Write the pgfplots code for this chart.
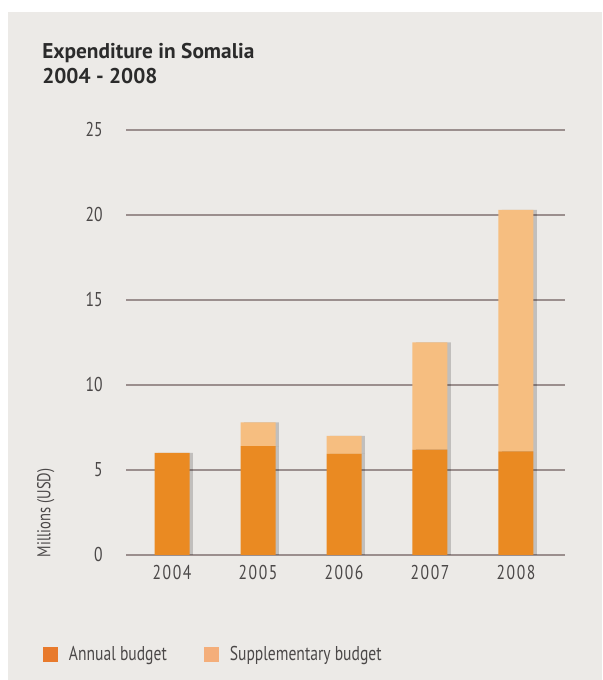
\documentclass[border=0pt]{standalone}
\usepackage{fontspec}
\setmainfont{PT Sans}
\newfontfamily\cond{PT Sans}[FakeStretch=0.78]
\newfontfamily\condsp{PT Sans}[FakeStretch=0.78, LetterSpace=8]
\usepackage{pgfplots}
\pgfplotsset{compat=1.18}
\usetikzlibrary{shadows}
\definecolor{bgcol}{HTML}{ECEAE7}
\definecolor{gridcol}{HTML}{9B8F8E}
\definecolor{annual}{HTML}{EA8A22}
\definecolor{supp}{HTML}{F6BE80}
\definecolor{annLeg}{HTML}{E87A2C}
\definecolor{suppLeg}{HTML}{F4AE7A}
\definecolor{tickcol}{HTML}{4B4848}
\definecolor{titlecol}{HTML}{2B2B2B}
\begin{document}
\begin{tikzpicture}
\fill[white] (-94.5pt,-93.75pt) rectangle (357pt,416.25pt);
\fill[bgcol] (-88.5pt,-93.75pt) rectangle (357pt,407.25pt);
\begin{axis}[
  at={(0pt,0pt)}, anchor=south west,
  scale only axis, width=329.25pt, height=318.75pt,
  xmin=-0.535, xmax=4.57, ymin=0, ymax=25,
  ytick={0,5,10,15,20,25},
  xtick={0,1,2,3,4}, xticklabels={2004,2005,2006,2007,2008},
  axis line style={draw=none}, major tick length=0pt,
  ymajorgrids, grid style={gridcol, line width=1pt},
  ybar stacked, bar width=26.25pt,
  /pgf/number format/assume math mode=true,
  yticklabel style={font=\cond\fontsize{15}{17}\selectfont, text=tickcol, xshift=-14pt},
  xticklabel style={font=\condsp\fontsize{15}{17}\selectfont, text=tickcol, yshift=-4pt},
  ylabel={Millions (USD)},
  ylabel style={at={(axis description cs:-0.183,0.099)}, anchor=center, font=\cond\fontsize{14}{16}\selectfont, text=tickcol},
  legend columns=2,
  legend style={at={(axis description cs:-0.189,-0.234)}, anchor=west, draw=none, fill=none, inner sep=0pt,
    font=\cond\fontsize{15}{17}\selectfont, text=tickcol,
    /tikz/every odd column/.append style={column sep=6pt},
    /tikz/every even column/.append style={column sep=26pt}},
]
\addplot[draw=none, fill=annual,
  drop shadow={shadow xshift=2.5pt, shadow yshift=0pt, fill=black, opacity=0.18},
  legend image code/.code={\pgfpathrectangle{\pgfpoint{0pt}{-5.6pt}}{\pgfpoint{11.25pt}{11.2pt}}\pgfsetfillcolor{annLeg}\pgfusepath{fill}}]
  coordinates {(0,6.0) (1,6.4) (2,5.95) (3,6.2) (4,6.1)};
\addlegendentry{Annual budget}
\addplot[draw=none, fill=supp,
  drop shadow={shadow xshift=2.5pt, shadow yshift=0pt, fill=black, opacity=0.18},
  legend image code/.code={\pgfpathrectangle{\pgfpoint{0pt}{-5.6pt}}{\pgfpoint{11.25pt}{11.2pt}}\pgfsetfillcolor{suppLeg}\pgfusepath{fill}}]
  coordinates {(0,0) (1,1.4) (2,1.05) (3,6.3) (4,14.2)};
\addlegendentry{Supplementary budget}
\end{axis}
\node[anchor=base west, inner sep=0pt, text=titlecol, font=\bfseries\fontsize{16}{19}\selectfont] at (-63pt,372pt) {Expenditure in Somalia};
\node[anchor=base west, inner sep=0pt, text=titlecol, font=\bfseries\fontsize{16}{19}\selectfont] at (-63pt,353.25pt) {2004 - 2008};
\end{tikzpicture}
\end{document}
